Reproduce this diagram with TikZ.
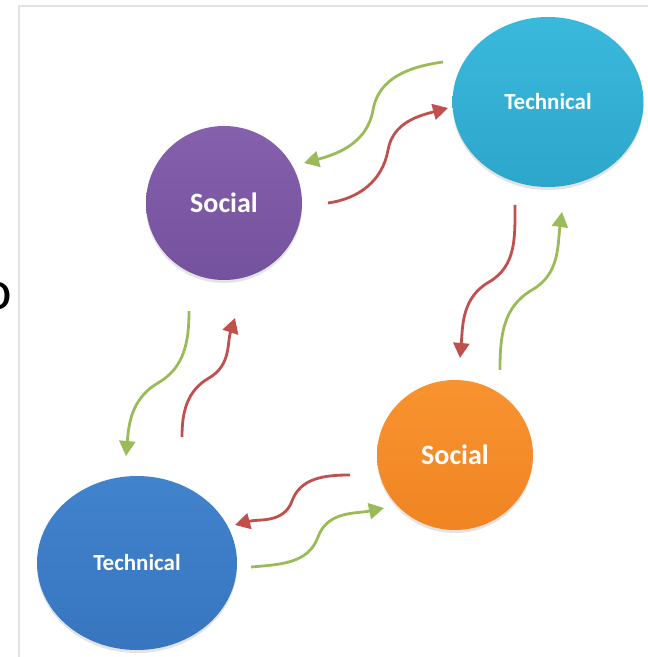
\documentclass[tikz,border=0pt]{standalone}
\usepackage{fontspec}
\setmainfont{Carlito}
\usetikzlibrary{shapes.geometric,arrows.meta,shadows}
\definecolor{cpurpleT}{RGB}{133,96,173}
\definecolor{cpurpleB}{RGB}{117,82,157}
\definecolor{ccyanT}{RGB}{58,185,220}
\definecolor{ccyanB}{RGB}{45,166,203}
\definecolor{cblueT}{RGB}{66,131,206}
\definecolor{cblueB}{RGB}{55,117,191}
\definecolor{corangeT}{RGB}{248,147,48}
\definecolor{corangeB}{RGB}{240,133,34}
\definecolor{agreen}{RGB}{155,187,89}
\definecolor{ared}{RGB}{192,80,77}
\definecolor{frame}{RGB}{226,226,226}
\begin{document}
\begin{tikzpicture}[x=1pt,y=1pt,
  ball/.style={ellipse, inner sep=0pt, draw=none, text=white, font=\bfseries,
    drop shadow={opacity=0.22, shadow xshift=0pt, shadow yshift=-3pt}},
  link/.style={line width=2.8pt, -{Triangle[length=15pt,width=16pt]}},
  greenlink/.style={link, draw=agreen},
  redlink/.style={link, draw=ared}]
\useasboundingbox (0,0) rectangle (648,657);
% frame
\draw[frame, line width=1.5pt] (19,0) -- (19,651) -- (648,651);
% cut-off letter (cut off at the left edge, as in the reference)
\node[inner sep=0pt, font=\fontsize{56}{56}\selectfont] (cut) at (-3,361) {o};
% balls
\node[ball, top color=cpurpleT, bottom color=cpurpleB, minimum width=156pt, minimum height=154pt,
  font=\bfseries\fontsize{28}{30}\selectfont] (soc1) at (224,454) {Social};
\node[ball, top color=ccyanT, bottom color=ccyanB, minimum width=191pt, minimum height=170pt,
  font=\bfseries\fontsize{23}{25}\selectfont] (tec1) at (548,555) {Technical};
\node[ball, top color=corangeT, bottom color=corangeB, minimum width=156pt, minimum height=150pt,
  font=\bfseries\fontsize{28}{30}\selectfont] (soc2) at (455,202) {Social};
\node[ball, top color=cblueT, bottom color=cblueB, minimum width=200pt, minimum height=174pt,
  font=\bfseries\fontsize{23}{25}\selectfont] (tec2) at (137,94) {Technical};
% connector end points
\coordinate (tgS) at (443,595); \coordinate (tgM) at (373,547); \coordinate (tgE) at (304,494);
\coordinate (trS) at (328,454); \coordinate (trM) at (388,507); \coordinate (trE) at (448,549);
\coordinate (rrS) at (515,452); \coordinate (rrM) at (489,375); \coordinate (rrE) at (460,299);
\coordinate (rgS) at (500,287); \coordinate (rgM) at (532,367); \coordinate (rgE) at (562,445);
\coordinate (lgS) at (189,346); \coordinate (lgM) at (158,274); \coordinate (lgE) at (126,201);
\coordinate (lrS) at (182,220); \coordinate (lrM) at (209,279); \coordinate (lrE) at (235,339);
\coordinate (brS) at (350,182); \coordinate (brM) at (292,156); \coordinate (brE) at (235,132);
\coordinate (bgS) at (251,90);  \coordinate (bgM) at (318,120); \coordinate (bgE) at (384,149);
% connectors
\draw[greenlink] (tgS) to[out=188,in=80] (tgM) to[out=260,in=15] (tgE);
\draw[redlink]   (trS) to[out=8,in=260] (trM) to[out=80,in=195] (trE);
\draw[redlink]   (rrS) to[out=270,in=30] (rrM) to[out=210,in=85] (rrE);
\draw[greenlink] (rgS) to[out=90,in=210] (rgM) to[out=30,in=262] (rgE);
\draw[greenlink] (lgS) to[out=270,in=30] (lgM) to[out=210,in=85] (lgE);
\draw[redlink]   (lrS) to[out=90,in=210] (lrM) to[out=30,in=252] (lrE);
\draw[redlink]   (brS) to[out=180,in=70] (brM) to[out=250,in=15] (brE);
\draw[greenlink] (bgS) to[out=5,in=250] (bgM) to[out=70,in=192] (bgE);
\end{tikzpicture}
\end{document}
